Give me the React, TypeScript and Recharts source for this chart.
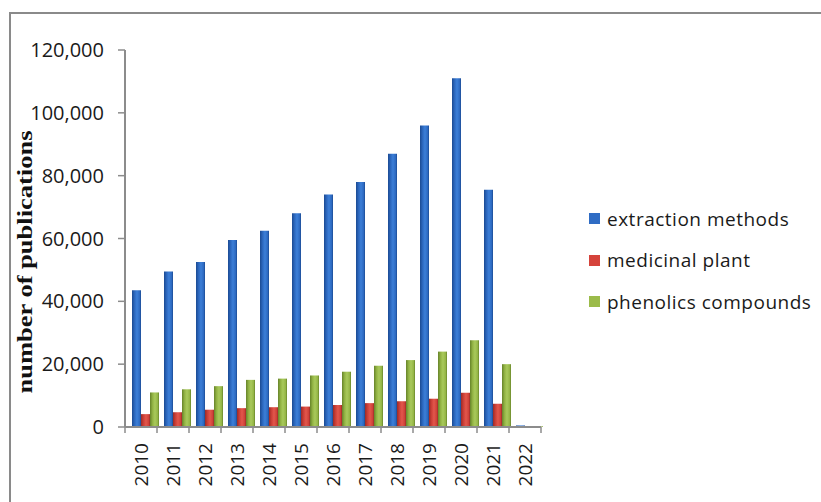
import React from "react";
import { Bar, BarChart, Legend, Rectangle, XAxis, YAxis } from "recharts";

const years = ["2010", "2011", "2012", "2013", "2014", "2015", "2016", "2017", "2018", "2019", "2020", "2021", "2022"];
const extractionMethods = [43500, 49500, 52500, 59500, 62500, 68000, 74000, 78000, 87000, 96000, 111000, 75500, 500];
const medicinalPlant = [4100, 4700, 5500, 6000, 6300, 6500, 7000, 7600, 8200, 9000, 10900, 7400, 300];
const phenolicsCompounds = [11000, 12000, 13000, 15000, 15400, 16400, 17600, 19500, 21300, 24000, 27600, 20000, 200];
const yTicks = [0, 20000, 40000, 60000, 80000, 100000, 120000];

const data = years.map((year, i) => ({
  year,
  extraction: extractionMethods[i],
  medicinal: medicinalPlant[i],
  phenolics: phenolicsCompounds[i],
}));

const W = 821;
const H = 502;
const PLOT_LEFT = 125;
const PLOT_RIGHT = 541;
const BAND = (PLOT_RIGHT - PLOT_LEFT) / years.length;
const AXIS_GRAY = "#8c8c8c";
const FONT = "'Open Sans', sans-serif";

const series = [
  { key: "extraction", name: "extraction methods", color: "#2f6cc4", grad: "gBlue" },
  { key: "medicinal", name: "medicinal plant", color: "#d5433b", grad: "gRed" },
  { key: "phenolics", name: "phenolics compounds", color: "#9bbb4a", grad: "gGreen" },
];

// year labels rotated, with tick marks on the category boundaries
function YearTick(props: any) {
  const { x, y, payload, index } = props;
  return (
    <g>
      <line x1={x - BAND / 2} y1={y - 8} x2={x - BAND / 2} y2={y - 2} stroke={AXIS_GRAY} strokeWidth={1.5} />
      {index === years.length - 1 && (
        <line x1={x + BAND / 2} y1={y - 8} x2={x + BAND / 2} y2={y - 2} stroke={AXIS_GRAY} strokeWidth={1.5} />
      )}
      <text
        x={x}
        y={y + 8}
        transform={`rotate(-90, ${x}, ${y + 8})`}
        textAnchor="end"
        dominantBaseline="central"
        fontFamily={FONT}
        fontSize={19}
        fill="#1a1a1a"
      >
        {payload.value}
      </text>
    </g>
  );
}

// bars sit slightly right of the category centre (pseudo-3D depth offset)
function ShiftedBar(props: any) {
  return <Rectangle {...props} x={props.x + 4} />;
}

function LegendBox() {
  return (
    <div style={{ fontFamily: FONT, fontSize: 19, color: "#1a1a1a", letterSpacing: 0.5 }}>
      {series.map((s) => (
        <div key={s.key} style={{ display: "flex", alignItems: "center", height: 41.5 }}>
          <span style={{ width: 11, height: 11, background: s.color, marginRight: 7, display: "inline-block" }} />
          <span>{s.name}</span>
        </div>
      ))}
    </div>
  );
}

function gradient(id: string, edge: string, mid: string, light: string) {
  return (
    <linearGradient id={id} x1="0" y1="0" x2="1" y2="0">
      <stop offset="0%" stopColor={edge} />
      <stop offset="30%" stopColor={mid} />
      <stop offset="55%" stopColor={light} />
      <stop offset="85%" stopColor={mid} />
      <stop offset="100%" stopColor={edge} />
    </linearGradient>
  );
}

export default function App() {
  return (
    <div style={{ position: "absolute", left: 0, top: 0, width: W, height: H, overflow: "hidden", background: "#fff" }}>
      <div
        style={{
          position: "absolute",
          left: 9,
          top: 12,
          width: W + 40,
          height: H + 40,
          borderLeft: "2px solid #8a8a8a",
          borderTop: "2px solid #8a8a8a",
        }}
      />
      <BarChart
        width={W}
        height={H}
        data={data}
        margin={{ top: 50, right: W - PLOT_RIGHT, left: 0, bottom: 0 }}
        barGap={0}
        barSize={9}
        style={{ position: "absolute", left: 0, top: 0 }}
      >
        <defs>
          {gradient("gBlue", "#1b4a92", "#2d69c0", "#3c7fd8")}
          {gradient("gRed", "#9c2b27", "#cf4139", "#e2574c")}
          {gradient("gGreen", "#66832a", "#94b545", "#a9c95c")}
        </defs>
        <XAxis
          dataKey="year"
          height={75}
          interval={0}
          tickLine={false}
          axisLine={{ stroke: AXIS_GRAY, strokeWidth: 2 }}
          tick={<YearTick />}
        />
        <YAxis
          width={PLOT_LEFT}
          domain={[0, 120000]}
          ticks={yTicks}
          interval={0}
          tickSize={7}
          tickMargin={14}
          tickFormatter={(v: number) => v.toLocaleString("en-US")}
          axisLine={{ stroke: AXIS_GRAY, strokeWidth: 2 }}
          tickLine={{ stroke: AXIS_GRAY, strokeWidth: 1.5 }}
          tick={{ fontFamily: FONT, fontSize: 20, fill: "#1a1a1a" }}
        />
        <text
          x={32}
          y={262}
          transform="rotate(-90, 32, 262)"
          textAnchor="middle"
          fontFamily="'Liberation Serif', 'Times New Roman', serif"
          fontWeight="bold"
          fontSize={22}
          textLength={263}
          lengthAdjust="spacingAndGlyphs"
          fill="#111"
        >
          number of publications
        </text>
        <Legend
          layout="vertical"
          align="center"
          verticalAlign="middle"
          wrapperStyle={{ left: 589, top: 198, width: 230 }}
          content={<LegendBox />}
        />
        {series.map((s) => (
          <Bar
            key={s.key}
            dataKey={s.key}
            name={s.name}
            fill={`url(#${s.grad})`}
            shape={<ShiftedBar />}
            isAnimationActive={false}
          />
        ))}
      </BarChart>
    </div>
  );
}
